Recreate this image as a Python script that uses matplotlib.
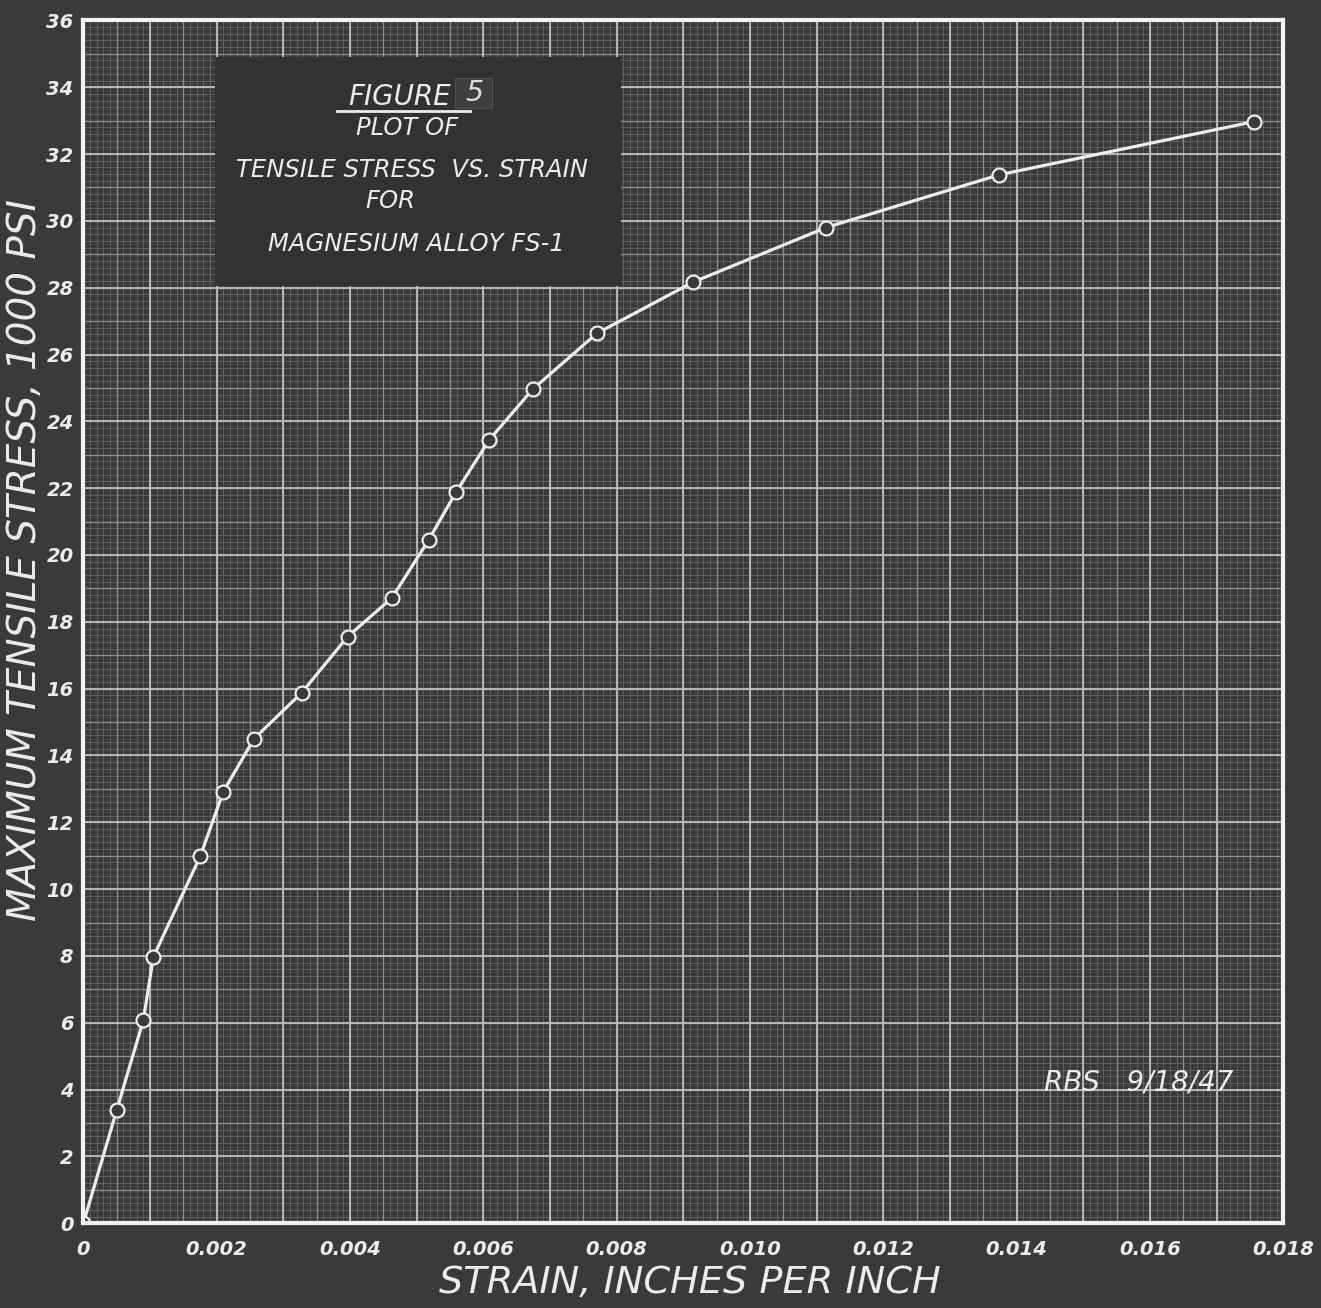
import numpy as np
import matplotlib
matplotlib.use("Agg")
import matplotlib.pyplot as plt
from matplotlib.patches import Rectangle

# ---- data ----
strain = [0.0, 0.000501, 0.000900, 0.00105, 0.001755, 0.00210, 0.00256, 0.003276,
          0.003966, 0.00463, 0.00518, 0.00559, 0.00609, 0.00674, 0.00770, 0.00915,
          0.01114, 0.01374, 0.01756]
stress = [0.0, 3.39, 6.08, 7.97, 10.99, 12.92, 14.50, 15.88, 17.56, 18.72, 20.45,
          21.88, 23.45, 24.96, 26.63, 28.17, 29.80, 31.38, 32.97]
x_ticks = [0.0, 0.002, 0.004, 0.006, 0.008, 0.010, 0.012, 0.014, 0.016, 0.018]
x_tick_labels = ["0", "0.002", "0.004", "0.006", "0.008", "0.010", "0.012",
                 "0.014", "0.016", "0.018"]
y_ticks = list(range(0, 37, 2))
y_tick_labels = [str(v) for v in y_ticks]

title_lines = ["PLOT OF", "TENSILE STRESS  VS. STRAIN", "FOR", "MAGNESIUM ALLOY FS-1"]
xlabel = "STRAIN, INCHES PER INCH"
ylabel = "MAXIMUM TENSILE STRESS, 1000 PSI"
signature = "RBS   9/18/47"

BG = "#3a3a3a"
BOX = "#323232"
LINE = "#ececec"

fig = plt.figure(figsize=(13.21, 13.08), dpi=100, facecolor=BG)
ax = fig.add_axes([0.0631, 0.0648, 0.9084, 0.9196])
ax.set_facecolor(BG)
ax.set_xlim(0, 0.018)
ax.set_ylim(0, 36)

# graph-paper grid: fine, medium, major
xf = np.arange(0, 0.018 + 1e-9, 0.0001)
yf = np.arange(0, 36 + 1e-9, 0.2)
ax.vlines(xf, 0, 36, colors="#6a6a6a", linewidth=0.55, zorder=1)
ax.hlines(yf, 0, 0.018, colors="#6a6a6a", linewidth=0.55, zorder=1)
xm = np.arange(0, 0.018 + 1e-9, 0.0005)
ym = np.arange(0, 36 + 1e-9, 1.0)
ax.vlines(xm, 0, 36, colors="#909090", linewidth=0.9, zorder=1)
ax.hlines(ym, 0, 0.018, colors="#909090", linewidth=0.9, zorder=1)
xM = np.arange(0, 0.018 + 1e-9, 0.001)
yM = np.arange(0, 36 + 1e-9, 2.0)
ax.vlines(xM, 0, 36, colors="#bdbdbd", linewidth=1.3, zorder=1)
ax.hlines(yM, 0, 0.018, colors="#bdbdbd", linewidth=1.3, zorder=1)

# title box
ax.add_patch(Rectangle((0.00198, 28.05), 0.00608, 6.85, facecolor=BOX,
                       edgecolor="none", zorder=2))
fs = 17.5
ax.text(0.00552, 33.72, "FIGURE", fontsize=20, style="italic", color=LINE,
        ha="right", va="center", zorder=3)
ax.plot([0.0038, 0.0058], [33.28, 33.28], color=LINE, lw=2, zorder=3)
ax.add_patch(Rectangle((0.00557, 33.39), 0.00056, 0.90, facecolor="#3e3e3e",
                       edgecolor="#525252", lw=0.8, zorder=3))
ax.text(0.00586, 33.84, "5", fontsize=fs + 3, style="italic", color="#dddddd",
        ha="center", va="center", zorder=4)
xs = [0.00486, 0.00493, 0.00460, 0.00499]
ys = [32.78, 31.53, 30.58, 29.30]
for t, xv, yv in zip(title_lines, xs, ys):
    ax.text(xv, yv, t, fontsize=fs, style="italic", color=LINE,
            ha="center", va="center", zorder=3)

# signature
ax.text(0.01583, 4.2, signature, fontsize=20, style="italic", color=LINE,
        ha="center", va="center", zorder=3)

# curve
ax.plot(strain, stress, color=LINE, lw=2.3, zorder=4, solid_capstyle="round",
        solid_joinstyle="round")
ax.plot(strain, stress, linestyle="none", marker="o", markersize=10,
        markerfacecolor=BG, markeredgecolor=LINE, markeredgewidth=1.6, zorder=5)

# axes styling
for s in ax.spines.values():
    s.set_color("#f2f2f2")
    s.set_linewidth(3)
    s.set_zorder(6)
ax.set_xticks(x_ticks)
ax.set_xticklabels(x_tick_labels)
ax.set_yticks(y_ticks)
ax.set_yticklabels(y_tick_labels)
ax.tick_params(axis="both", length=0, colors=LINE)
ax.tick_params(axis="x", pad=12, labelsize=14)
ax.tick_params(axis="y", pad=7, labelsize=14)
for lab in ax.get_xticklabels() + ax.get_yticklabels():
    lab.set_fontstyle("italic")
    lab.set_fontweight("bold")

ax.set_xlabel(xlabel, fontsize=27.5, style="italic", color=LINE)
ax.set_ylabel(ylabel, fontsize=28, style="italic", color=LINE)
ax.xaxis.set_label_coords(0.5056, -0.0500)
ax.yaxis.set_label_coords(-0.0490, 0.551)
ax.xaxis.label.set_va("center")
ax.yaxis.label.set_va("center")

fig.savefig("out.png", dpi=100, facecolor=BG)
